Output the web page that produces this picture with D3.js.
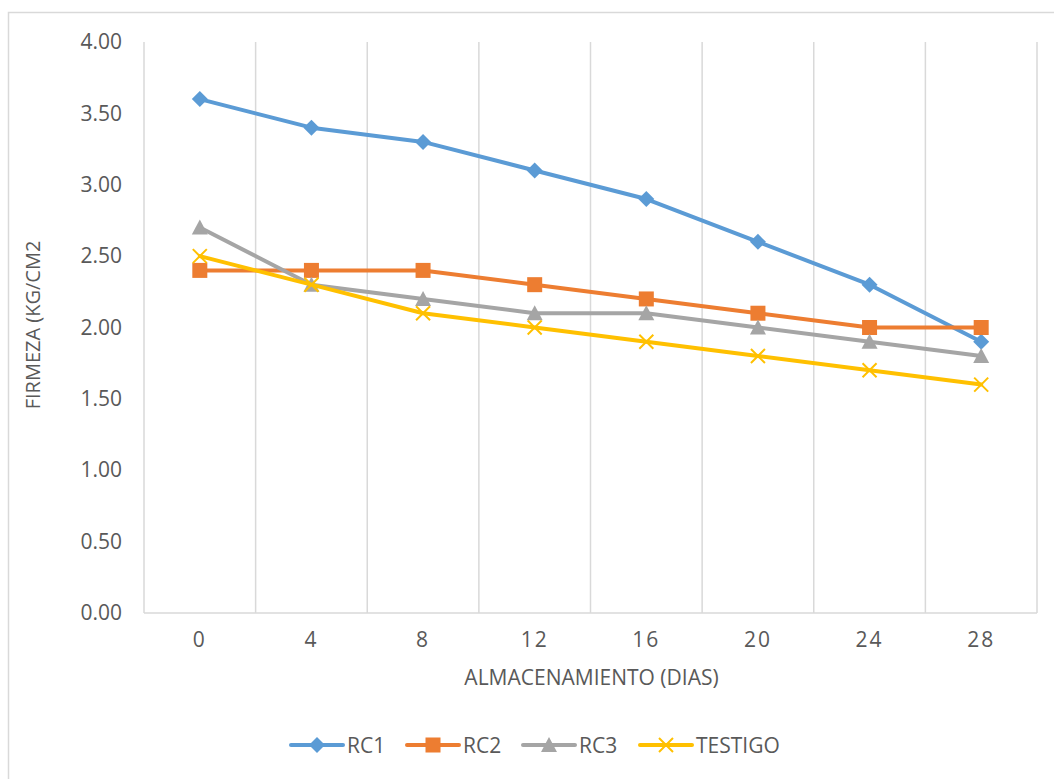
<!DOCTYPE html>
<html>
<head>
<meta charset="utf-8">
<script src="https://cdn.jsdelivr.net/npm/d3@7"></script>
<style>
  body { margin: 0; background: #fff; }
  svg text { font-family: "Open Sans", "Noto Sans", sans-serif; fill: #595959; }
</style>
</head>
<body>
<script>
// datos
const dias = ["0", "4", "8", "12", "16", "20", "24", "28"]
const rc1 = [3.6, 3.4, 3.3, 3.1, 2.9, 2.6, 2.3, 1.9]
const rc2 = [2.4, 2.4, 2.4, 2.3, 2.2, 2.1, 2.0, 2.0]
const rc3 = [2.7, 2.3, 2.2, 2.1, 2.1, 2.0, 1.9, 1.8]
const testigo = [2.5, 2.3, 2.1, 2.0, 1.9, 1.8, 1.7, 1.6]
const yTicks = [0, 0.5, 1, 1.5, 2, 2.5, 3, 3.5, 4]

const series = [
  { name: "RC1", values: rc1, color: "#5B9BD5", marker: "diamond" },
  { name: "RC2", values: rc2, color: "#ED7D31", marker: "square" },
  { name: "RC3", values: rc3, color: "#A5A5A5", marker: "triangle" },
  { name: "TESTIGO", values: testigo, color: "#FFC000", marker: "x" }
]

const width = 1054
const height = 779
const margin = { top: 42, right: 17, bottom: 166, left: 144 }
const innerW = width - margin.left - margin.right
const innerH = height - margin.top - margin.bottom

const svg = d3.select("body").append("svg")
  .attr("width", width)
  .attr("height", height)

// cadre exterieur
svg.append("rect")
  .attr("x", 8.5).attr("y", 12.5)
  .attr("width", width).attr("height", height)
  .attr("fill", "none").attr("stroke", "#D9D9D9").attr("stroke-width", 1.5)

const g = svg.append("g")
  .attr("transform", "translate(" + margin.left + "," + margin.top + ")")

const x = d3.scaleBand().domain(dias).range([0, innerW])
const y = d3.scaleLinear().domain([0, 4]).range([innerH, 0])

// lignes verticales de la grille (limites des categories)
const bounds = dias.map(d => x(d)).concat([innerW])
g.selectAll(".grid")
  .data(bounds)
  .enter().append("line")
  .attr("x1", d => d).attr("x2", d => d)
  .attr("y1", 0).attr("y2", innerH)
  .attr("stroke", "#D9D9D9").attr("stroke-width", 1.5)

// axe x
g.append("line")
  .attr("x1", 0).attr("x2", innerW)
  .attr("y1", innerH).attr("y2", innerH)
  .attr("stroke", "#D9D9D9").attr("stroke-width", 1.5)

const xAxis = g.append("g")
  .attr("transform", "translate(0," + innerH + ")")
  .call(d3.axisBottom(x).tickSize(0).tickPadding(19))
xAxis.select(".domain").remove()
xAxis.selectAll("text")
  .style("font-size", "21px")
  .style("letter-spacing", "2px")
  .attr("fill", "#595959")

// axe y
const yAxis = g.append("g")
  .call(d3.axisLeft(y).tickValues(yTicks).tickFormat(d3.format(".2f")).tickSize(0).tickPadding(22))
yAxis.select(".domain").remove()
yAxis.selectAll("text")
  .style("font-size", "21px")
  .attr("fill", "#595959")

// titres des axes
svg.append("text")
  .attr("x", margin.left + innerW / 2 + 1)
  .attr("y", 685)
  .attr("text-anchor", "middle")
  .style("font-size", "21px")
  .text("ALMACENAMIENTO (DIAS)")

svg.append("text")
  .attr("transform", "translate(40,325) rotate(-90)")
  .attr("text-anchor", "middle")
  .style("font-size", "20px")
  .text("FIRMEZA (KG/CM2")

function drawMarker(sel, type, color) {
  if (type === "diamond") {
    sel.append("path").attr("d", "M0,-8L8,0L0,8L-8,0Z").attr("fill", color)
  } else if (type === "square") {
    sel.append("rect").attr("x", -7.5).attr("y", -7.5).attr("width", 15).attr("height", 15).attr("fill", color)
  } else if (type === "triangle") {
    sel.append("path").attr("d", "M0,-8L8,7L-8,7Z").attr("fill", color)
  } else {
    sel.append("path").attr("d", "M-7,-7L7,7M-7,7L7,-7")
      .attr("stroke", color).attr("stroke-width", 2).attr("fill", "none")
  }
}

const line = d3.line()
  .x((d, i) => x(dias[i]) + x.bandwidth() / 2)
  .y(d => y(d))

series.forEach(s => {
  g.append("path")
    .datum(s.values)
    .attr("d", line)
    .attr("fill", "none")
    .attr("stroke", s.color)
    .attr("stroke-width", 4)
    .attr("stroke-linejoin", "round")
    .attr("stroke-linecap", "round")

  s.values.forEach((v, i) => {
    const m = g.append("g")
      .attr("transform", "translate(" + (x(dias[i]) + x.bandwidth() / 2) + "," + y(v) + ")")
    drawMarker(m, s.marker, s.color)
  })
})

// legende
const legX = [291, 407, 523, 640]
series.forEach((s, i) => {
  const lg = svg.append("g").attr("transform", "translate(" + legX[i] + ",745)")
  lg.append("line")
    .attr("x1", 0).attr("x2", 52)
    .attr("y1", 0).attr("y2", 0)
    .attr("stroke", s.color).attr("stroke-width", 4).attr("stroke-linecap", "round")
  const m = lg.append("g").attr("transform", "translate(26,0)")
  drawMarker(m, s.marker, s.color)
  lg.append("text")
    .attr("x", 56).attr("y", 8)
    .style("font-size", "21px")
    .text(s.name)
})
</script>
</body>
</html>
